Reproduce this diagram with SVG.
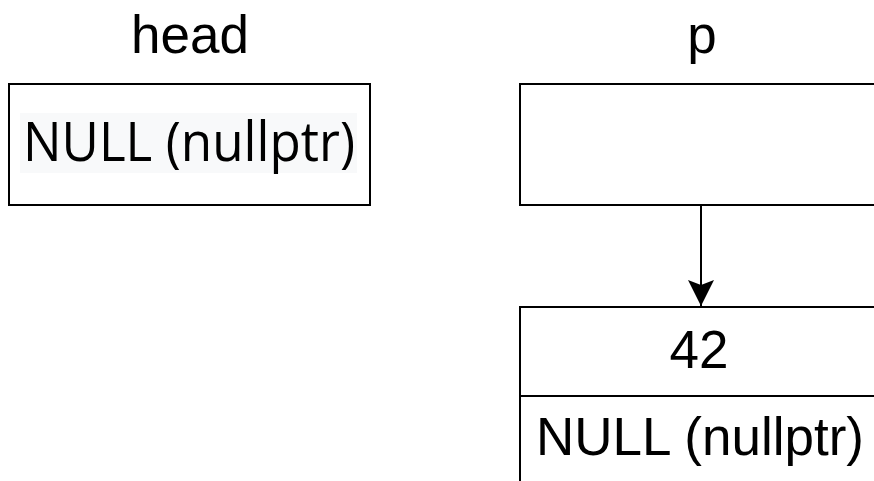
<svg xmlns="http://www.w3.org/2000/svg" width="874" height="481" viewBox="0 0 874 481">
  <style>
    .box { fill: #ffffff; stroke: #000000; stroke-width: 2; }
    .lbl { font-family: "Liberation Sans", Arial, sans-serif; font-size: 53px; fill: #000000; text-anchor: middle; }
    .val { font-family: "Open Sans", "Liberation Sans", sans-serif; font-size: 55px; fill: #000000; text-anchor: middle; }
    .edge { stroke: #000000; stroke-width: 2; fill: none; }
  </style>
  <defs>
    <marker id="arrow" markerUnits="userSpaceOnUse" markerWidth="30" markerHeight="30" viewBox="0 0 30 30" refX="26" refY="15" orient="auto">
      <path d="M26,15 L0,2 L5,15 L0,28 Z" fill="#000000"/>
    </marker>
  </defs>
  <rect width="874" height="481" fill="#ffffff"/>

  <!-- variable labels -->
  <g id="head-label">
    <text class="lbl" x="190" y="53">head</text>
  </g>
  <g id="p-label">
    <text class="lbl" x="702" y="53">p</text>
  </g>

  <!-- head pointer cell -->
  <g id="head">
    <rect class="box" x="9" y="84" width="361" height="121"/>
    <rect x="20" y="113" width="337" height="60" fill="#f8f9fa"/>
    <text class="val" x="189" y="161" textLength="332" lengthAdjust="spacingAndGlyphs">NULL (nullptr)</text>
  </g>

  <!-- p pointer cell -->
  <g id="p">
    <rect class="box" x="520" y="84" width="361" height="121"/>
  </g>

  <!-- list node: data + next -->
  <g id="node">
    <rect class="box" x="520" y="307" width="361" height="190"/>
    <line x1="520" y1="396" x2="881" y2="396" stroke="#000000" stroke-width="2"/>
    <text class="lbl" x="699" y="368">42</text>
    <text class="lbl" x="700" y="455">NULL (nullptr)</text>
  </g>

  <!-- connectors -->
  <g id="edges">
    <line class="edge" x1="701" y1="205" x2="701" y2="306" marker-end="url(#arrow)"/>
  </g>
</svg>
